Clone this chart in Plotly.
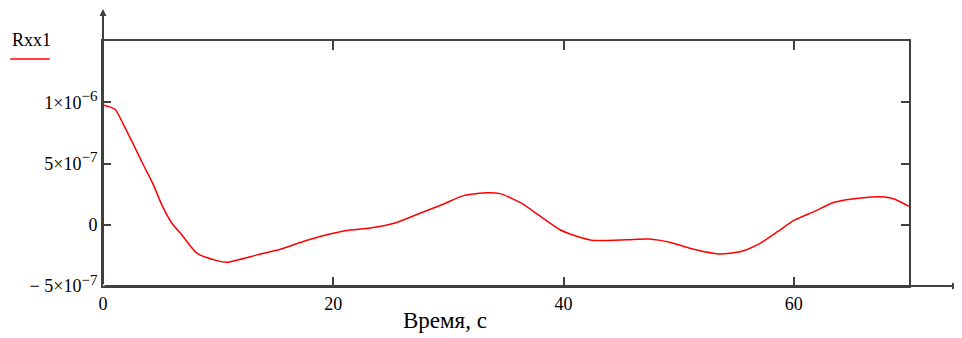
import plotly.graph_objects as go

# Data
time_s = [0, 1.04, 1.77, 2.64, 3.5, 4.37, 5.1, 5.97, 6.84, 8.15, 9.9, 10.75, 13.4, 15.4,
          17.4, 19.2, 21.2, 23.2, 25.5, 27.6, 29.6, 31.3, 33.4, 34.5, 36.3, 38.0, 39.7,
          41.2, 42.6, 45.5, 47.4, 49.3, 51.3, 53.5, 55.4, 57.1, 58.6, 60.0, 61.8, 63.5,
          65.8, 67.9, 68.7, 70.0]
rxx1 = [0.978e-6, 0.943e-6, 0.82e-6, 0.656e-6, 0.49e-6, 0.328e-6, 0.164e-6, 0.014e-6,
        -0.082e-6, -0.232e-6, -0.293e-6, -0.306e-6, -0.246e-6, -0.2e-6,
        -0.137e-6, -0.088e-6, -0.047e-6, -0.027e-6, 0.019e-6, 0.096e-6, 0.17e-6,
        0.238e-6, 0.262e-6, 0.254e-6, 0.178e-6, 0.068e-6, -0.041e-6,
        -0.096e-6, -0.128e-6, -0.123e-6, -0.117e-6, -0.145e-6, -0.2e-6, -0.238e-6,
        -0.219e-6, -0.15e-6, -0.055e-6, 0.035e-6, 0.109e-6, 0.183e-6,
        0.219e-6, 0.227e-6, 0.21e-6, 0.15e-6]

x_ticks = [0, 20, 40, 60]
y_ticks = [1e-6, 5e-7, 0, -5e-7]
SUP = '<sup><span style="font-size:15px">{}</span></sup>'
y_tick_labels = ["1×10" + SUP.format("−6"), "5×10" + SUP.format("−7"), "0",
                 "− 5×10" + SUP.format("−7")]
x_range = [0, 70]
y_range = [-5e-7, 1.5e-6]
series_name = "Rxx1"
x_title = "Время, с"

AX = "#404040"
FONT = "Liberation Serif"

fig = go.Figure()
fig.add_trace(go.Scatter(x=time_s, y=rxx1, mode="lines", name=series_name,
                         line=dict(color="#ff0000", width=1.5, shape="spline", smoothing=0.6),
                         showlegend=False))

# page body has an 8px margin, so the figure is sized/offset to compensate
fig.update_layout(
    width=954, height=330,
    margin=dict(l=95, r=53, t=33, b=52),
    paper_bgcolor="white", plot_bgcolor="white",
    font=dict(family=FONT, size=18, color="#000000"),
    xaxis=dict(range=x_range, tickvals=x_ticks, ticktext=[str(v) for v in x_ticks],
               ticks="inside", ticklen=9, tickwidth=2, tickcolor=AX,
               showline=True, linecolor=AX, linewidth=2, mirror="ticks",
               showgrid=False, zeroline=False, tickfont=dict(size=18, family=FONT)),
    yaxis=dict(range=y_range, tickvals=y_ticks, ticktext=y_tick_labels,
               ticks="inside", ticklen=8, tickwidth=2, tickcolor=AX,
               showline=True, linecolor=AX, linewidth=2, mirror="ticks",
               showgrid=False, zeroline=False, tickfont=dict(size=18, family=FONT)),
)

# Axis arrows extending beyond the frame
fig.add_annotation(xref="paper", yref="paper", x=0, y=1.14, ax=0, ay=279,
                   axref="pixel", ayref="pixel", text="", showarrow=True,
                   arrowhead=2, arrowsize=0.7, arrowwidth=2, arrowcolor=AX)
fig.add_annotation(xref="paper", yref="paper", x=1.062, y=0, ax=-856, ay=0,
                   axref="pixel", ayref="pixel", text="", showarrow=True,
                   arrowhead=2, arrowsize=0.7, arrowwidth=2, arrowcolor=AX)

# Legend (text above a line sample)
fig.add_annotation(xref="paper", yref="paper", x=-0.089, y=1.004, text=series_name,
                   showarrow=False, xanchor="center", yanchor="middle",
                   font=dict(size=18, family=FONT))
fig.add_shape(type="line", xref="paper", yref="paper", x0=-0.115, x1=-0.066,
              y0=0.927, y1=0.927, line=dict(color="#ff0000", width=1.5))

# X axis title
fig.add_annotation(xref="paper", yref="paper", x=0.424, y=-0.14, text=x_title,
                   showarrow=False, xanchor="center", yanchor="middle",
                   font=dict(size=23, family=FONT))

fig.write_html("out.html")
